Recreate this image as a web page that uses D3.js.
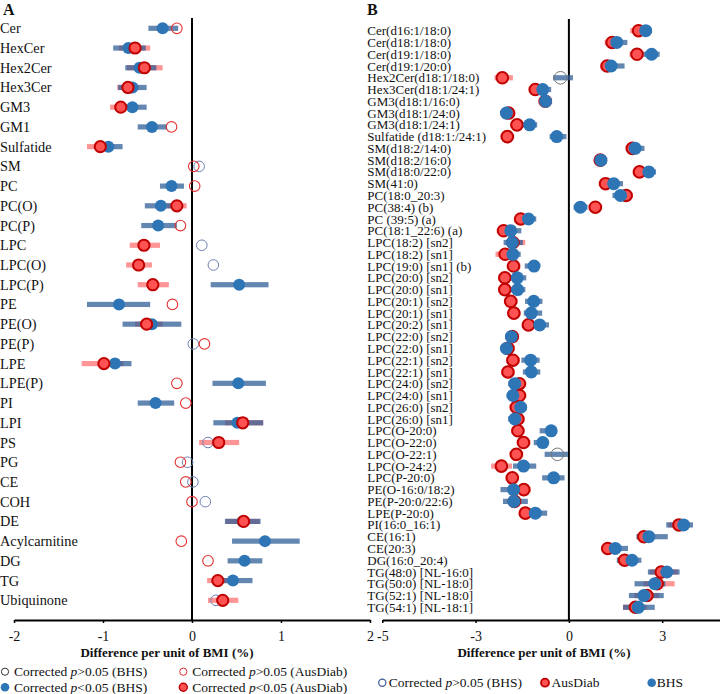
<!DOCTYPE html>
<html><head><meta charset="utf-8">
<script src="https://cdn.jsdelivr.net/npm/d3@7"></script>
<style>
html,body{margin:0;padding:0;background:#fff;}
svg{display:block;font-family:"Liberation Serif","Times New Roman",serif;}
</style></head>
<body><svg id="chart" width="720" height="694"></svg>
<script>
// ---------- Panel A data ----------
const catsA = ["Cer","HexCer","Hex2Cer","Hex3Cer","GM3","GM1","Sulfatide","SM","PC","PC(O)","PC(P)","LPC","LPC(O)","LPC(P)","PE","PE(O)","PE(P)","LPE","LPE(P)","PI","LPI","PS","PG","CE","COH","DE","Acylcarnitine","DG","TG","Ubiquinone"];
const bhsA   = [-0.33,-0.715,-0.59,-0.67,-0.67,-0.45,-0.94,0.08,-0.23,-0.35,-0.38,0.11,0.24,0.53,-0.82,-0.45,0.015,-0.865,0.52,-0.41,0.51,0.18,-0.05,0.01,0.15,0.57,0.82,0.59,0.46,0.27];
const bhsLoA = [-0.49,-0.885,-0.75,-0.83,-0.8,-0.61,-1.08,null,-0.36,-0.53,-0.57,null,null,0.21,-1.18,-0.78,null,-1.02,0.23,-0.61,0.24,null,null,null,null,0.37,0.45,0.40,0.30,null];
const bhsHiA = [-0.155,-0.52,-0.4,-0.51,-0.51,-0.28,-0.78,null,-0.09,-0.18,-0.17,null,null,0.86,-0.47,-0.12,null,-0.68,0.83,-0.20,0.80,null,null,null,null,0.77,1.21,0.79,0.68,null];
const bhsSigA = [1,1,1,1,1,1,1,0,1,1,1,0,0,1,1,1,0,1,1,1,1,0,0,0,0,1,1,1,1,0];
const ausA   = [-0.17,-0.64,-0.535,-0.72,-0.80,-0.23,-1.03,0.02,0.03,-0.17,-0.13,-0.54,-0.60,-0.44,-0.22,-0.51,0.14,-0.99,-0.17,-0.07,0.57,0.30,-0.13,-0.07,0.0,0.58,-0.12,0.18,0.29,0.345];
const ausLoA = [null,-0.82,-0.73,-0.84,-0.92,null,-1.18,null,null,-0.28,null,-0.70,-0.74,-0.61,null,-0.64,null,-1.24,null,null,0.37,0.08,null,null,null,0.38,null,null,0.17,0.18];
const ausHiA = [null,-0.47,-0.33,-0.6,-0.68,null,-0.88,null,null,-0.06,null,-0.36,-0.45,-0.26,null,-0.33,null,-0.77,null,null,0.80,0.53,null,null,null,0.76,null,null,0.42,0.52];
const ausSigA = [0,1,1,1,1,0,1,0,0,1,0,1,1,1,0,1,0,1,0,0,1,1,0,0,0,1,0,0,1,1];
const ticksA = [-2,-1,0,1,2];
const tickLabelsA = ["-2","-1","0","1","2"];

// ---------- Panel B data ----------
const catsB = ["Cer(d16:1/18:0)","Cer(d18:1/18:0)","Cer(d19:1/18:0)","Cer(d19:1/20:0)","Hex2Cer(d18:1/18:0)","Hex3Cer(d18:1/24:1)","GM3(d18:1/16:0)","GM3(d18:1/24:0)","GM3(d18:1/24:1)","Sulfatide (d18:1:/24:1)","SM(d18:2/14:0)","SM(d18:2/16:0)","SM(d18:0/22:0)","SM(41:0)","PC(18:0_20:3)","PC(38:4) (b)","PC (39:5) (a)","PC(18:1_22:6) (a)","LPC(18:2) [sn2]","LPC(18:2) [sn1]","LPC(19:0) [sn1] (b)","LPC(20:0) [sn2]","LPC(20:0) [sn1]","LPC(20:1) [sn2]","LPC(20:1) [sn1]","LPC(20:2) [sn1]","LPC(22:0) [sn2]","LPC(22:0) [sn1]","LPC(22:1) [sn2]","LPC(22:1) [sn1]","LPC(24:0) [sn2]","LPC(24:0) [sn1]","LPC(26:0) [sn2]","LPC(26:0) [sn1]","LPC(O-20:0)","LPC(O-22:0)","LPC(O-22:1)","LPC(O-24:2)","LPC(P-20:0)","PE(O-16:0/18:2)","PE(P-20:0/22:6)","LPE(P-20:0)","PI(16:0_16:1)","CE(16:1)","CE(20:3)","DG(16:0_20:4)","TG(48:0) [NL-16:0]","TG(50:0) [NL-18:0]","TG(52:1) [NL-18:0]","TG(54:1) [NL-18:1]"];
const ausB   = [2.24,1.39,2.19,1.23,-2.14,-1.08,-0.76,-1.94,-1.67,-1.98,2.04,1.01,2.27,1.18,1.84,0.85,-1.55,-2.10,-1.80,-2.05,-1.78,-2.06,-2.06,-1.87,-1.77,-1.30,-1.82,-1.96,-1.80,-1.96,-1.59,-1.59,-1.69,-1.64,-1.64,-1.46,-1.69,-2.17,-1.82,-1.45,-1.75,-1.40,3.54,2.41,1.25,1.79,2.97,2.84,2.51,2.14];
const ausLoB = [1.97,1.15,1.95,1.0,-2.39,-1.3,-0.98,-2.16,-1.89,-2.2,1.82,0.8,2.05,0.96,1.62,0.63,-1.77,-2.32,-2.02,-2.36,-2.0,-2.28,-2.28,-2.09,-1.99,-1.52,-2.04,-2.18,-2.02,-2.18,-1.81,-1.81,-1.91,-1.86,-1.86,-1.68,-1.91,-2.5,-2.04,-1.67,-1.97,-1.62,3.2,2.19,1.03,1.57,2.6,2.4,2.1,1.74];
const ausHiB = [2.46,1.61,2.41,1.45,-1.8,-0.86,-0.54,-1.72,-1.45,-1.76,2.26,1.23,2.49,1.4,2.06,1.07,-1.33,-1.88,-1.4,-1.83,-1.56,-1.84,-1.84,-1.65,-1.55,-1.08,-1.6,-1.74,-1.58,-1.74,-1.37,-1.37,-1.47,-1.42,-1.42,-1.24,-1.47,-1.83,-1.6,-1.23,-1.53,-1.18,3.9,2.63,1.47,2.01,3.5,3.4,2.9,2.5];
const bhsB   = [2.47,1.54,2.66,1.36,-0.27,-0.84,-0.75,-2.01,-1.26,-0.39,2.13,1.03,2.57,1.44,1.66,0.37,-1.30,-1.87,-1.82,-1.80,-1.12,-1.66,-1.65,-1.13,-1.21,-0.94,-1.85,-2.01,-1.23,-1.21,-1.74,-1.80,-1.55,-1.74,-0.57,-0.84,-0.37,-1.46,-0.49,-1.78,-1.77,-1.08,3.69,2.57,1.49,2.03,3.15,2.76,2.41,2.23];
const bhsLoB = [2.27,1.2,2.4,1.1,-0.51,-1.1,-0.95,-2.2,-1.5,-0.62,1.85,0.85,2.35,1.15,1.4,0.15,-1.55,-2.2,-2.1,-2.05,-1.42,-1.9,-1.9,-1.41,-1.45,-1.2,-2.05,-2.2,-1.53,-1.48,-1.95,-2.0,-1.75,-1.95,-0.94,-1.13,-0.78,-1.8,-0.86,-2.2,-2.12,-1.4,3.13,2.17,1.2,1.54,2.54,2.11,1.93,1.74];
const bhsHiB = [2.67,1.88,2.92,1.79,0.13,-0.57,-0.55,-1.82,-1.02,-0.08,2.43,1.2,2.8,1.74,1.9,0.6,-1.05,-1.53,-1.48,-1.55,-0.94,-1.37,-1.4,-0.85,-0.86,-0.64,-1.65,-1.8,-0.94,-0.92,-1.5,-1.6,-1.35,-1.55,-0.38,-0.71,-0.03,-1.05,-0.14,-1.45,-1.32,-0.7,3.99,3.18,1.9,2.33,3.56,3.1,3.05,2.76];
const bhsSigB = [1,1,1,1,0,1,1,1,1,1,1,1,1,1,1,1,1,1,1,1,1,1,1,1,1,1,1,1,1,1,1,1,1,1,1,1,0,1,1,1,1,1,1,1,1,1,1,1,1,1];
const ticksB = [-6,-3,0,3];
const tickLabelsB = ["-5","-3","0","3"];

const axisTitle = "Difference per unit of BMI (%)";

// ---------- styles ----------
const BLUE = "#2e75b6", BLUE_BAR = "#2f5f97", RED = "#ff5252", RED_STROKE = "#c00000", RED_BAR = "#ff8a8a";
const OPEN_BLUE = "#6f7fb3", OPEN_RED = "#e53030";

const svg = d3.select("#chart");
const axisY = 620;

function rows(cats, v, lo, hi, sig) {
  return cats.map((c, i) => ({c, v: v[i], lo: lo[i], hi: hi[i], sig: !!sig[i]}));
}

function panel(opts) {
  const {cats, x, y, bhs, aus, redOnTop, labelX, labelSize, openBlueStyle} = opts;
  const g = svg.append("g");
  // labels
  g.selectAll("text.lab").data(cats).join("text")
    .attr("class","lab").attr("x", labelX).attr("y", d => y(d)).attr("dy","0.35em")
    .style("font-size", labelSize + "px").attr("fill","#111").text(d => d);
  // zero line
  g.append("line").attr("x1", x(0)).attr("x2", x(0)).attr("y1", opts.zeroTop).attr("y2", axisY)
    .attr("stroke","#000").attr("stroke-width",2);
  // bars
  const ausBars = aus.filter(d => d.lo != null && d.sig);
  const bhsBars = bhs.filter(d => d.lo != null);
  g.selectAll("rect.rb").data(ausBars).join("rect").attr("class","rb")
    .attr("x", d => x(d.lo)).attr("width", d => x(d.hi) - x(d.lo))
    .attr("y", d => y(d.c) - 2.6).attr("height", 5.2).attr("fill", RED_BAR).attr("opacity",0.9);
  g.selectAll("rect.bb").data(bhsBars).join("rect").attr("class","bb")
    .attr("x", d => x(d.lo)).attr("width", d => x(d.hi) - x(d.lo))
    .attr("y", d => y(d.c) - 2.6).attr("height", 5.2).attr("fill", BLUE_BAR).attr("opacity",0.75);
  // open circles
  g.selectAll("circle.ob").data(bhs.filter(d => !d.sig)).join("circle").attr("class","ob")
    .attr("cx", d => x(d.v)).attr("cy", d => y(d.c)).attr("r", openBlueStyle.r)
    .attr("fill","none").attr("stroke", openBlueStyle.color).attr("stroke-width",1);
  g.selectAll("circle.or").data(aus.filter(d => !d.sig)).join("circle").attr("class","or")
    .attr("cx", d => x(d.v)).attr("cy", d => y(d.c)).attr("r", 5.3)
    .attr("fill","none").attr("stroke", OPEN_RED).attr("stroke-width",1.1);
  const drawBlue = () => g.selectAll("circle.fb").data(bhs.filter(d => d.sig)).join("circle").attr("class","fb")
    .attr("cx", d => x(d.v)).attr("cy", d => y(d.c)).attr("r", opts.rBlue).attr("fill", BLUE);
  const drawRed = () => g.selectAll("circle.fr").data(aus.filter(d => d.sig)).join("circle").attr("class","fr")
    .attr("cx", d => x(d.v)).attr("cy", d => y(d.c)).attr("r", opts.rRed)
    .attr("fill", RED).attr("stroke", RED_STROKE).attr("stroke-width",2);
  if (redOnTop) { drawBlue(); drawRed(); } else { drawRed(); drawBlue(); }
  // axis
  const ax = g.append("g").attr("transform", `translate(0,${axisY})`)
    .call(d3.axisBottom(x).tickValues(opts.ticks).tickFormat((d,i) => opts.tickLabels[i]).tickSize(3).tickSizeOuter(0));
  ax.select(".domain").attr("stroke","#000").attr("stroke-width",2);
  ax.selectAll(".tick line").attr("stroke","#000").attr("stroke-width",1.5);
  ax.selectAll(".tick text").attr("y",16).attr("dy","0.35em")
    .style("font-size","14px").style("font-family",'"Liberation Serif",serif').attr("fill","#111");
  g.append("text").attr("x", opts.titleX).attr("y", 652).attr("dy","0.35em").attr("text-anchor","middle")
    .style("font-size","13px").style("font-weight","bold").attr("fill","#111").text(axisTitle);
  g.append("text").attr("x", opts.letterX).attr("y", 14.5).style("font-size","16px").style("font-weight","bold")
    .attr("fill","#111").text(opts.letter);
}

// Panel A
const xA = d3.scaleLinear().domain([-2, 2]).range([14, 370]);
const yA = d3.scalePoint().domain(catsA).range([28.3, 600.3]);
panel({cats: catsA, x: xA, y: yA,
  bhs: rows(catsA, bhsA, bhsLoA, bhsHiA, bhsSigA),
  aus: rows(catsA, ausA, ausLoA, ausHiA, ausSigA),
  redOnTop: true, labelX: 0, labelSize: 14.3, zeroTop: 18, rBlue: 6, rRed: 5.6,
  openBlueStyle: {r: 5.3, color: OPEN_BLUE},
  ticks: ticksA, tickLabels: tickLabelsA, titleX: 167, letter: "A", letterX: 3});

// Panel B
const xB = d3.scaleLinear().domain([-6, 6]).range([382.3, 755.5]);
const yB = d3.scalePoint().domain(catsB).range([30.7, 607.3]);
panel({cats: catsB, x: xB, y: yB,
  bhs: rows(catsB, bhsB, bhsLoB, bhsHiB, bhsSigB),
  aus: rows(catsB, ausB, ausLoB, ausHiB, Array(catsB.length).fill(1)),
  redOnTop: false, labelX: 367.3, labelSize: 13, zeroTop: 19, rBlue: 6.5, rRed: 5.8,
  openBlueStyle: {r: 6.3, color: "#777"},
  ticks: ticksB, tickLabels: tickLabelsB, titleX: 544, letter: "B", letterX: 367});

// ---------- Legends ----------
const legA = [
  {x: 5, y: 671.7, type: "openK", t: ["Corrected ", "p", ">0.05 (BHS)"]},
  {x: 183.3, y: 671.7, type: "openR", t: ["Corrected ", "p", ">0.05 (AusDiab)"]},
  {x: 5, y: 687.3, type: "fillB", t: ["Corrected ", "p", "<0.05 (BHS)"]},
  {x: 183.3, y: 687.3, type: "fillR", t: ["Corrected ", "p", "<0.05 (AusDiab)"]},
  {x: 382.3, y: 682.7, type: "openB", t: ["Corrected ", "p", ">0.05 (BHS)"]},
  {x: 545, y: 682.7, type: "fillR2", t: ["AusDiab"]},
  {x: 651.7, y: 682.7, type: "fillB2", t: ["BHS"]}
];
const lg = svg.append("g");
legA.forEach(d => {
  const c = lg.append("circle").attr("cx", d.x).attr("cy", d.y);
  let tx = d.x + 9;
  if (d.type === "openK") c.attr("r",3.6).attr("fill","none").attr("stroke","#333").attr("stroke-width",1);
  if (d.type === "openR") c.attr("r",3.6).attr("fill","none").attr("stroke",OPEN_RED).attr("stroke-width",1);
  if (d.type === "openB") { c.attr("r",3.6).attr("fill","none").attr("stroke","#3a5a9a").attr("stroke-width",1.2); tx = d.x + 6.5; }
  if (d.type === "fillB") c.attr("r",4.3).attr("fill",BLUE);
  if (d.type === "fillR") c.attr("r",4).attr("fill",RED).attr("stroke",RED_STROKE).attr("stroke-width",1.4);
  if (d.type === "fillR2") { c.attr("r",4).attr("fill",RED).attr("stroke",RED_STROKE).attr("stroke-width",1.8); tx = d.x + 6.5; }
  if (d.type === "fillB2") { c.attr("r",4.3).attr("fill",BLUE); tx = d.x + 5; }
  const t = lg.append("text").attr("x", tx).attr("y", d.y).attr("dy","0.35em")
    .style("font-size","13.5px").attr("fill","#111");
  d.t.forEach((s, i) => {
    const ts = t.append("tspan").text(s);
    if (s === "p") ts.style("font-style","italic");
  });
});
</script></body></html>
